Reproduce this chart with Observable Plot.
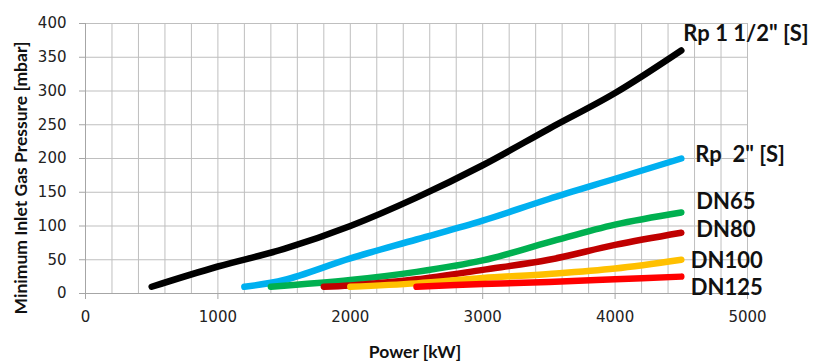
<!DOCTYPE html>
<html>
<head>
<meta charset="utf-8">
<script src="https://cdn.jsdelivr.net/npm/d3@7"></script>
<script src="https://cdn.jsdelivr.net/npm/@observablehq/plot@0.6"></script>
<style>
  html, body { margin: 0; padding: 0; background: #fff; }
  #chart { width: 822px; height: 364px; }
</style>
</head>
<body>
<div id="chart"></div>
<script>
// ---- Data ----
const xTicks = [0, 1000, 2000, 3000, 4000, 5000];
const xGridValues = [0, 200, 400, 600, 800, 1000, 1200, 1400, 1600, 1800, 2000, 2200, 2400, 2600, 2800, 3000, 3200, 3400, 3600, 3800, 4000, 4200, 4400, 4600, 4800, 5000];
const yTicks = [0, 50, 100, 150, 200, 250, 300, 350, 400];

const seriesNames = ["Rp 1 1/2\" [S]", "Rp  2\" [S]", "DN65", "DN80", "DN100", "DN125"];

const rp112 = [[500, 10], [1000, 40], [1500, 66], [2000, 100], [2500, 142], [3000, 190], [3500, 244], [4000, 297], [4500, 360]];
const rp2   = [[1200, 10], [1500, 20], [2000, 52], [2500, 80], [3000, 108], [3500, 140], [4000, 170], [4500, 200]];
const dn65  = [[1400, 10], [2000, 20], [2500, 32], [3000, 49], [3500, 76], [4000, 102], [4500, 120]];
const dn80  = [[1800, 10], [2000, 12], [2500, 21], [3000, 35], [3500, 50], [4000, 72], [4500, 90]];
const dn100 = [[2000, 10], [2500, 15], [3000, 23], [3500, 29], [4000, 37], [4500, 50]];
const dn125 = [[2500, 10], [3000, 14], [3500, 17], [4000, 21], [4500, 25]];

// ---- Styling ----
const seriesData = [rp112, rp2, dn65, dn80, dn100, dn125];
const colors = ["#000000", "#00B0F0", "#00B050", "#C00000", "#FFC000", "#FF0000"];
const labelOffsets = [[2, -17], [14, -4], [15, -11], [15, -2.5], [9.5, 1], [9.5, 11]];
const labelFont = "Lato, 'Open Sans', sans-serif";
const tickFont = "'DejaVu Sans', Verdana, sans-serif";

const marks = [
  Plot.gridX(xGridValues, {stroke: "#bfbfbf", strokeOpacity: 1, strokeWidth: 1}),
  Plot.gridY(yTicks, {stroke: "#bfbfbf", strokeOpacity: 1, strokeWidth: 1}),
  Plot.ruleY([0], {stroke: "#a6a6a6", strokeWidth: 1}),
  Plot.ruleX([0], {stroke: "#a6a6a6", strokeWidth: 1}),
  Plot.axisX({ticks: xTicks, tickSize: 6, tickPadding: 12, fontSize: 15, fontFamily: tickFont, stroke: "#a6a6a6", color: "#222", label: null, tickFormat: d => String(d)}),
  Plot.axisY({ticks: yTicks, tickSize: 6, tickPadding: 13, fontSize: 15, fontFamily: tickFont, stroke: "#a6a6a6", color: "#222", label: null, tickFormat: d => String(d)})
];

seriesData.forEach((pts, i) => {
  marks.push(Plot.line(pts, {
    x: d => d[0], y: d => d[1],
    stroke: colors[i], strokeWidth: 6.5, strokeLinecap: "round", strokeLinejoin: "round",
    curve: "catmull-rom"
  }));
});

seriesData.forEach((pts, i) => {
  marks.push(Plot.text([pts[pts.length - 1]], {
    x: d => d[0], y: d => d[1], text: () => seriesNames[i],
    textAnchor: "start", lineAnchor: "middle",
    dx: labelOffsets[i][0], dy: labelOffsets[i][1],
    fontSize: 22, fontWeight: "bold", fontFamily: labelFont, fill: "#111"
  }));
});

const chart = Plot.plot({
  width: 822,
  height: 364,
  marginLeft: 85,
  marginRight: 75,
  marginTop: 23,
  marginBottom: 71,
  x: {domain: [0, 5000]},
  y: {domain: [0, 400]},
  style: {background: "#fff", overflow: "visible"},
  marks
});

// axis titles
const svg = d3.select(chart);
svg.append("text")
  .attr("transform", "translate(27,178) rotate(-90)")
  .attr("text-anchor", "middle")
  .attr("font-family", labelFont)
  .attr("font-weight", "bold")
  .attr("font-size", 17.5)
  .attr("fill", "#111")
  .text("Minimum Inlet Gas Pressure [mbar]");
svg.append("text")
  .attr("x", 415)
  .attr("y", 358)
  .attr("text-anchor", "middle")
  .attr("font-family", labelFont)
  .attr("font-weight", "bold")
  .attr("font-size", 17.5)
  .attr("fill", "#111")
  .text("Power [kW]");

document.getElementById("chart").appendChild(chart);
</script>
</body>
</html>
